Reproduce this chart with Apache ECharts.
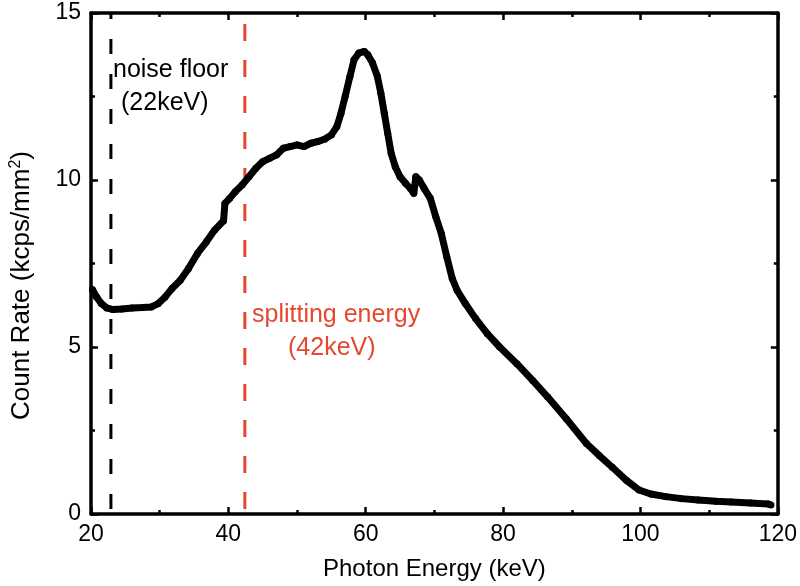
<!DOCTYPE html>
<html><head><meta charset="utf-8">
<script src="https://cdn.jsdelivr.net/npm/echarts@6/dist/echarts.min.js"></script>
<style>html,body{margin:0;padding:0;background:#fff}#c{width:800px;height:586px}</style>
</head><body><div id="c"></div>
<script>
var energy = [20.2,20.8,21.5,22.3,23.2,24.5,26,27.5,28.8,29.8,30.8,31.8,33,34.2,35.5,36.8,38,39.3,39.5,40.2,41,42,43,44,45,46,47,48,49,50,51,52,53,54,55,55.8,56.4,57,57.7,58.3,59,59.8,60.3,61,61.7,62.2,62.7,63.2,63.7,64.3,65,65.8,66.5,67,67.3,67.8,68.5,69.4,70.2,71,71.8,72.6,73.3,74.5,76,77.7,79.5,82,84.3,86.5,89.2,92.1,94,95.9,98,99.8,101.5,103.7,106,108.4,111,113.2,116,118.6,119];
var countRate = [6.72,6.5,6.3,6.17,6.12,6.14,6.17,6.18,6.2,6.3,6.5,6.75,7.0,7.35,7.8,8.15,8.5,8.78,9.3,9.45,9.65,9.85,10.1,10.35,10.55,10.65,10.75,10.95,11.0,11.05,11.0,11.1,11.15,11.22,11.35,11.6,12.0,12.5,13.1,13.6,13.8,13.85,13.75,13.5,13.1,12.6,12.0,11.4,10.8,10.4,10.1,9.9,9.75,9.6,10.1,10.0,9.75,9.45,8.9,8.4,7.7,7.05,6.7,6.3,5.85,5.4,5.0,4.5,4.0,3.5,2.85,2.12,1.75,1.4,1.0,0.72,0.6,0.52,0.46,0.42,0.38,0.36,0.33,0.3,0.27];
var noiseFloor = 22.9;
var splittingEnergy = 42.4;
var xTicks = [20,40,60,80,100,120];
var yTicks = [0,5,10,15];

var FONT = 'Liberation Sans, Arial, sans-serif';
var chart = echarts.init(document.getElementById('c'), null, {renderer:'canvas'});
var curve = energy.map(function(e,i){return [e,countRate[i]];});

function axisCommon(show){
  return {
    axisLine:{show:true,onZero:false,lineStyle:{color:'#000',width:3.5}},
    axisTick:{show:true,inside:true,length:7,lineStyle:{color:'#000',width:2.5}},
    minorTick:{show:true,splitNumber:2,length:4,lineStyle:{color:'#000',width:2.5}},
    splitLine:{show:false},
    axisLabel:{show:show,color:'#000',fontFamily:FONT,fontSize:23}
  };
}
var xb = Object.assign(axisCommon(true),{type:'value',min:xTicks[0],max:xTicks[xTicks.length-1],interval:20,position:'bottom',
  name:'Photon Energy (keV)',nameLocation:'middle',nameGap:43,nameTextStyle:{color:'#000',fontFamily:FONT,fontSize:24}});
xb.axisLabel.margin=9;
var xt = Object.assign(axisCommon(false),{type:'value',min:20,max:120,interval:20,position:'top'});
var yl = Object.assign(axisCommon(true),{type:'value',min:yTicks[0],max:yTicks[yTicks.length-1],interval:5,position:'left',
  name:'{a|Count Rate (kcps/mm}{s|2}{a|)}',nameLocation:'middle',nameGap:55,
  nameTextStyle:{color:'#000',fontFamily:FONT,fontSize:26,padding:[0,44,0,0],
    rich:{a:{fontFamily:FONT,fontSize:26,color:'#000'},s:{fontFamily:FONT,fontSize:16,color:'#000',verticalAlign:'top',padding:[0,0,12,0]}}}});
yl.axisLabel.margin=10;
var yr = Object.assign(axisCommon(false),{type:'value',min:0,max:15,interval:5,position:'right'});

chart.setOption({
  animation:false,
  backgroundColor:'#fff',
  grid:{left:88,right:22,top:13,bottom:69,containLabel:false},
  xAxis:[xb,xt],
  yAxis:[yl,yr],
  series:[
    {type:'line',xAxisIndex:0,yAxisIndex:0,data:[[noiseFloor,0],[noiseFloor,15]],symbol:'none',
      lineStyle:{color:'#000',width:3,type:[15,20],dashOffset:-5},z:1},
    {type:'line',xAxisIndex:0,yAxisIndex:0,data:[[splittingEnergy,0],[splittingEnergy,15]],symbol:'none',
      lineStyle:{color:'#e5482e',width:3,type:[17,19],dashOffset:-5},z:1},
    {type:'line',xAxisIndex:0,yAxisIndex:0,data:curve,symbol:'circle',symbolSize:7,showSymbol:true,
      itemStyle:{color:'#000'},lineStyle:{color:'#000',width:7,join:'round'},smooth:false,z:3}
  ],
  graphic:[
    {type:'text',left:113,top:58,style:{text:'noise floor',font:'25px '+FONT,fill:'#000'}},
    {type:'text',left:121,top:91,style:{text:'(22keV)',font:'25px '+FONT,fill:'#000'}},
    {type:'text',left:252,top:303,style:{text:'splitting energy',font:'25px '+FONT,fill:'#e5482e'}},
    {type:'text',left:288,top:336,style:{text:'(42keV)',font:'25px '+FONT,fill:'#e5482e'}}
  ]
});
</script></body></html>
